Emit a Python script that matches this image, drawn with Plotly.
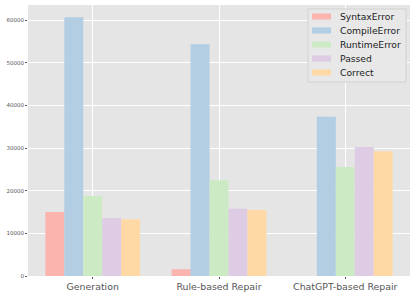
import plotly.graph_objects as go

categories = ["Generation", "Rule-based Repair", "ChatGPT-based Repair"]
series_names = ["SyntaxError", "CompileError", "RuntimeError", "Passed", "Correct"]
syntax_error = [15000, 1600, 0]
compile_error = [60700, 54400, 37400]
runtime_error = [18800, 22500, 25600]
passed = [13600, 15800, 30300]
correct = [13300, 15500, 29300]
colors = ["#fbb4ae", "#b3cde3", "#ccebc5", "#decbe4", "#fed9a6"]
y_ticks = [0, 10000, 20000, 30000, 40000, 50000, 60000]

series_values = [syntax_error, compile_error, runtime_error, passed, correct]

W, H = 415, 294
ML, MR, MT, MB = 28, 5, 5, 18
PW, PH = W - ML - MR, H - MT - MB


def px_x(x):
    return (x - ML) / PW


def px_y(y):
    return (H - MB - y) / PH


fig = go.Figure()
for name, vals, col in zip(series_names, series_values, colors):
    fig.add_trace(go.Bar(x=categories, y=vals, name=name, showlegend=False,
                         marker=dict(color=col, line=dict(width=0))))

# custom legend (matplotlib-like layout)
shapes = [dict(type="rect", xref="paper", yref="paper",
               x0=px_x(308), x1=px_x(406), y0=px_y(82), y1=px_y(9),
               fillcolor="#e8e8e8", line=dict(color="#d2d2d2", width=1),
               layer="above")]
annotations = []
entry_y = [16.5, 30.5, 44.5, 58.5, 72.5]
for name, col, yc in zip(series_names, colors, entry_y):
    shapes.append(dict(type="rect", xref="paper", yref="paper",
                       x0=px_x(312), x1=px_x(331), y0=px_y(yc + 3), y1=px_y(yc - 3),
                       fillcolor=col, line=dict(width=0), layer="above"))
    annotations.append(dict(xref="paper", yref="paper", x=px_x(338), y=px_y(yc),
                            xanchor="left", yanchor="middle", text=name,
                            showarrow=False,
                            font=dict(size=9.2, color="#222222", family="DejaVu Sans")))

fig.update_layout(
    width=W, height=H,
    margin=dict(l=ML, r=MR, t=MT, b=MB),
    paper_bgcolor="white",
    plot_bgcolor="#e5e5e5",
    barmode="group",
    bargap=0.25,
    bargroupgap=0,
    font=dict(family="DejaVu Sans", color="#555555"),
    shapes=shapes,
    annotations=annotations,
)
fig.update_xaxes(
    range=[-0.5125, 2.5125],
    showgrid=True, gridcolor="white", gridwidth=1,
    ticks="outside", ticklen=2, tickcolor="#555555",
    tickfont=dict(size=9.4, color="#555555"),
    showline=False, zeroline=False, automargin=False,
)
fig.update_yaxes(
    range=[0, 63600],
    tickvals=y_ticks,
    ticktext=[str(v) for v in y_ticks],
    showgrid=True, gridcolor="white", gridwidth=1,
    ticks="outside", ticklen=2, tickcolor="#555555",
    tickfont=dict(size=5.5, color="#555555"),
    showline=False, zeroline=False, automargin=False,
)

fig.write_html("out.html",
               config={"displayModeBar": False},
               post_script="document.body.style.margin='0';document.body.style.padding='0';")
